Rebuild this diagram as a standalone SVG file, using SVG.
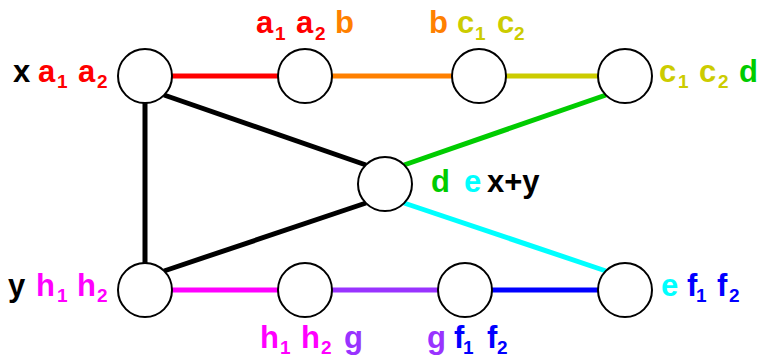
<svg xmlns="http://www.w3.org/2000/svg" width="761" height="357" viewBox="0 0 761 357">
<style>
.edge{stroke-width:5;fill:none;stroke-linecap:butt}
.node{fill:#ffffff;stroke:#000000;stroke-width:2}
.lbl{font-family:"Liberation Sans",Arial,sans-serif;font-weight:bold;font-size:31px}
.sub{font-size:19px}
.k{fill:#000000}.r{fill:#ff0000}.o{fill:#ff8000}.yc{fill:#cccc00}.gr{fill:#00cc00}
.cy{fill:#00ffff}.bl{fill:#0000ff}.pu{fill:#9933ff}.mg{fill:#ff00ff}
</style>
<rect width="761" height="357" fill="#ffffff"/>
<g id="connectors">
<line class="edge" x1="145" y1="76" x2="305" y2="76" stroke="#ff0000"/>
<line class="edge" x1="305" y1="76" x2="479" y2="76" stroke="#ff8000"/>
<line class="edge" x1="479" y1="76" x2="625" y2="76" stroke="#cccc00"/>
<line class="edge" x1="404" y1="165" x2="606" y2="95" stroke="#00cc00"/>
<line class="edge" x1="404" y1="203" x2="606" y2="271" stroke="#00ffff"/>
<line class="edge" x1="145" y1="290" x2="305" y2="290" stroke="#ff00ff"/>
<line class="edge" x1="305" y1="290" x2="465" y2="290" stroke="#9933ff"/>
<line class="edge" x1="465" y1="290" x2="625" y2="290" stroke="#0000ff"/>
<line class="edge" x1="145" y1="103" x2="145" y2="263" stroke="#000000"/>
<line class="edge" x1="164" y1="95" x2="366" y2="165" stroke="#000000"/>
<line class="edge" x1="164" y1="271" x2="366" y2="203" stroke="#000000"/>
</g>
<g id="node-x">
<circle class="node" cx="145" cy="76" r="27"/>
<text class="lbl"><tspan class="k" x="13" y="82">x</tspan><tspan class="r" x="38" y="82">a</tspan><tspan class="r sub" x="57" y="88">1</tspan><tspan class="r" x="78" y="82">a</tspan><tspan class="r sub" x="97" y="88">2</tspan></text>
</g>
<g id="node-a">
<circle class="node" cx="305" cy="76" r="27"/>
<text class="lbl"><tspan class="r" x="256" y="33">a</tspan><tspan class="r sub" x="275" y="39.5">1</tspan><tspan class="r" x="296" y="33">a</tspan><tspan class="r sub" x="315" y="39.5">2</tspan><tspan class="o" x="335" y="33">b</tspan></text>
</g>
<g id="node-b">
<circle class="node" cx="479" cy="76" r="27"/>
<text class="lbl"><tspan class="o" x="429" y="33">b</tspan><tspan class="yc" x="457" y="33">c</tspan><tspan class="yc sub" x="475" y="39.5">1</tspan><tspan class="yc" x="497" y="33">c</tspan><tspan class="yc sub" x="514" y="39.5">2</tspan></text>
</g>
<g id="node-c">
<circle class="node" cx="625" cy="76" r="27"/>
<text class="lbl"><tspan class="yc" x="659" y="82">c</tspan><tspan class="yc sub" x="678" y="88">1</tspan><tspan class="yc" x="699" y="82">c</tspan><tspan class="yc sub" x="718" y="88">2</tspan><tspan class="gr" x="739" y="82">d</tspan></text>
</g>
<g id="node-d">
<circle class="node" cx="385" cy="184" r="27"/>
<text class="lbl"><tspan class="gr" x="431" y="192">d</tspan><tspan class="cy" x="464" y="192">e</tspan><tspan class="k" x="487" y="192">x+y</tspan></text>
</g>
<g id="node-y">
<circle class="node" cx="145" cy="290" r="27"/>
<text class="lbl"><tspan class="k" x="8" y="296">y</tspan><tspan class="mg" x="36" y="296">h</tspan><tspan class="mg sub" x="57" y="302">1</tspan><tspan class="mg" x="77" y="296">h</tspan><tspan class="mg sub" x="97" y="302">2</tspan></text>
</g>
<g id="node-h">
<circle class="node" cx="305" cy="290" r="27"/>
<text class="lbl"><tspan class="mg" x="260" y="348">h</tspan><tspan class="mg sub" x="280" y="354">1</tspan><tspan class="mg" x="301" y="348">h</tspan><tspan class="mg sub" x="321" y="354">2</tspan><tspan class="pu" x="344" y="348">g</tspan></text>
</g>
<g id="node-g">
<circle class="node" cx="465" cy="290" r="27"/>
<text class="lbl"><tspan class="pu" x="427" y="348">g</tspan><tspan class="bl" x="454" y="348">f</tspan><tspan class="bl sub" x="463" y="354">1</tspan><tspan class="bl" x="487" y="348">f</tspan><tspan class="bl sub" x="497" y="354">2</tspan></text>
</g>
<g id="node-e">
<circle class="node" cx="625" cy="290" r="27"/>
<text class="lbl"><tspan class="cy" x="661" y="296">e</tspan><tspan class="bl" x="687" y="296">f</tspan><tspan class="bl sub" x="696" y="302">1</tspan><tspan class="bl" x="717" y="296">f</tspan><tspan class="bl sub" x="729" y="302">2</tspan></text>
</g>
</svg>
